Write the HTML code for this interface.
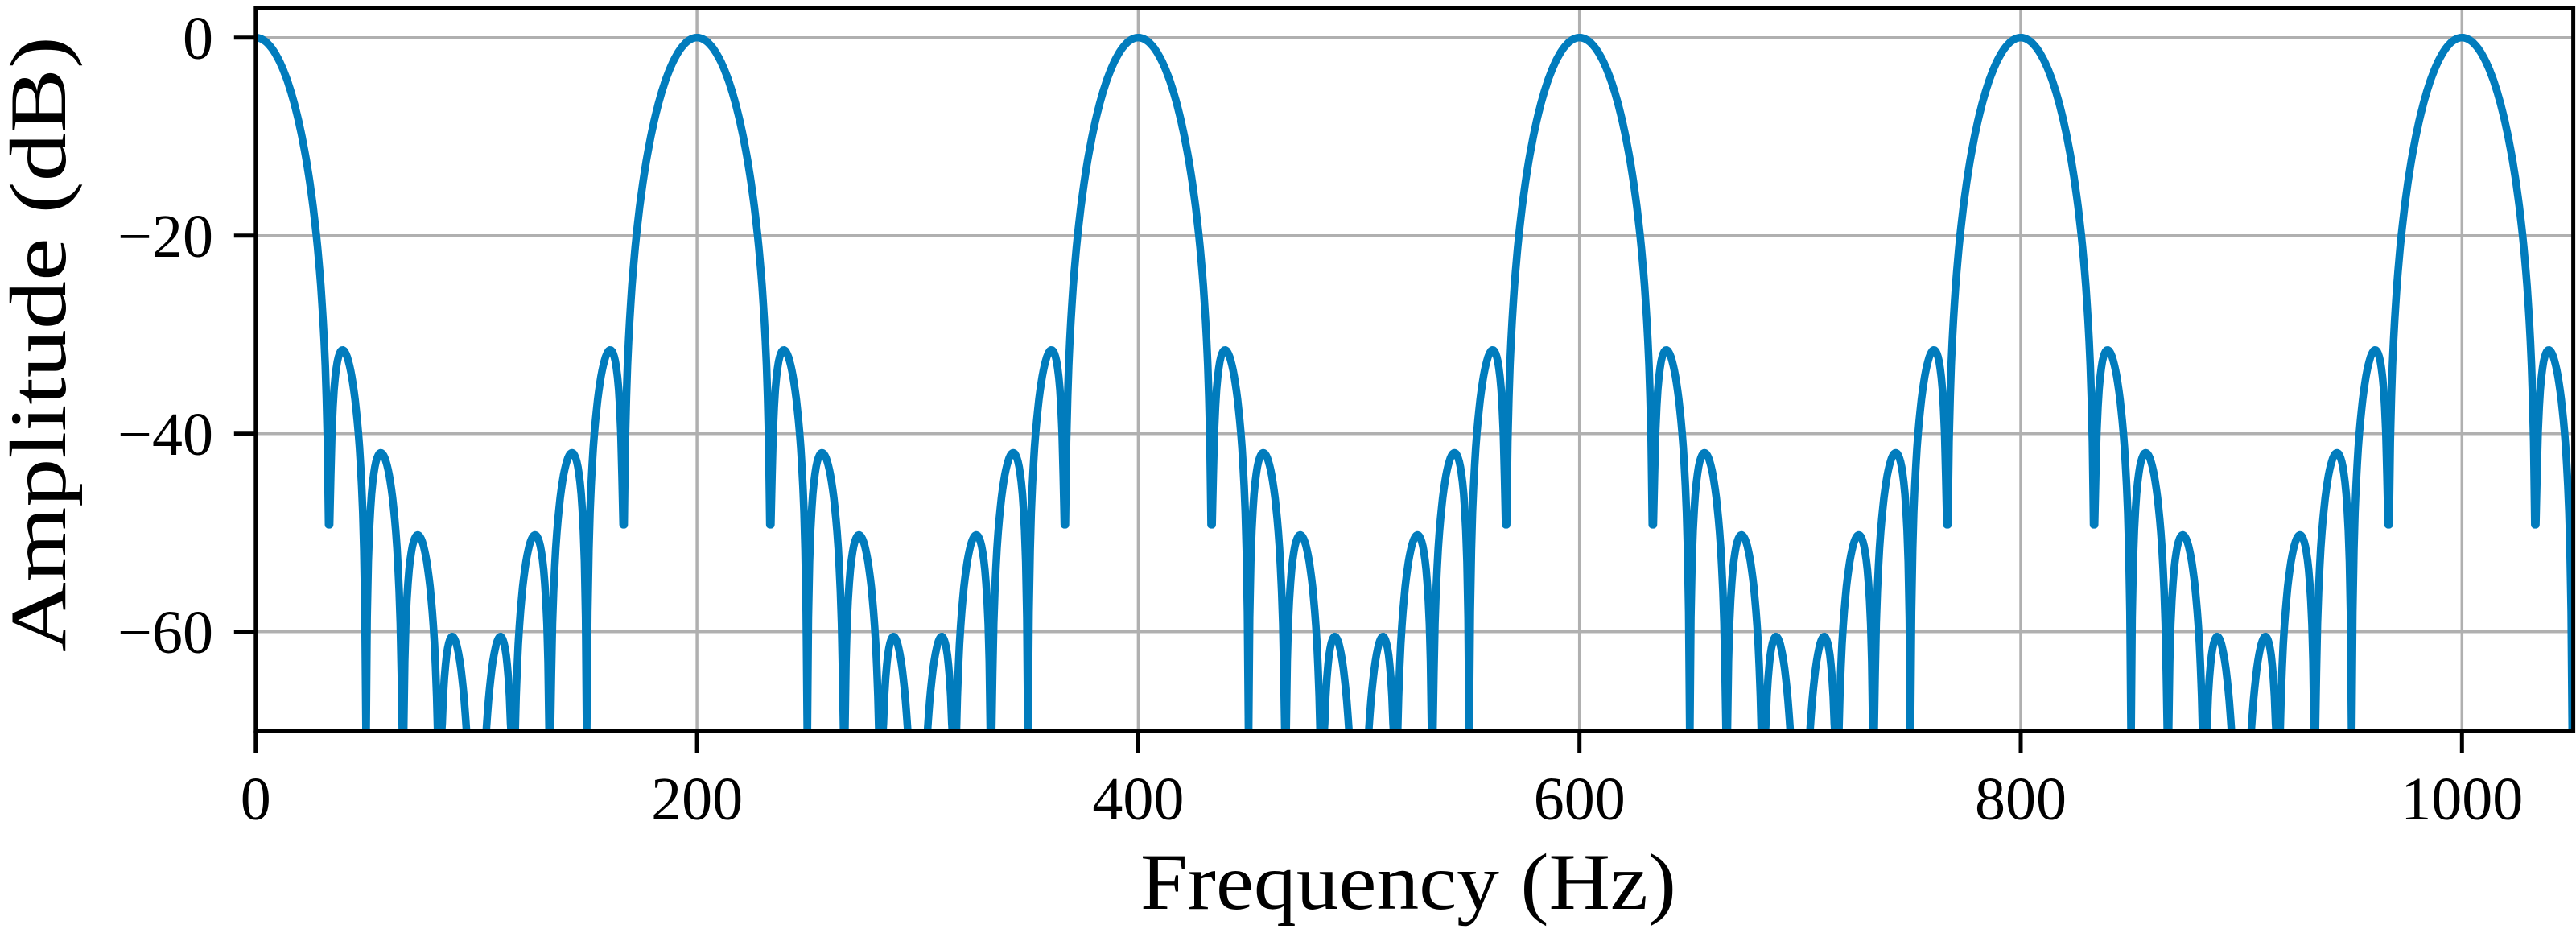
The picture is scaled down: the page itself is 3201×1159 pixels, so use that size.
<!DOCTYPE html>
<html><head><meta charset="utf-8"><style>
html,body{margin:0;padding:0;background:#fff;}
svg{display:block;}
text{font-family:"Liberation Serif",serif;fill:#000;}
</style></head><body>
<svg id="s" width="3201" height="1159" viewBox="0 0 3201 1159" xmlns="http://www.w3.org/2000/svg">
<rect width="3201" height="1159" fill="#fff"/>
<g id="grid" stroke="#b0b0b0" stroke-width="3.5"></g>
<path id="curve" fill="none" stroke="#017cbd" stroke-width="9.5" stroke-linejoin="round" stroke-linecap="butt"/>
<g id="ticks" stroke="#000" stroke-width="5"></g>
<rect x="317.8" y="10" width="2879.8" height="897.7" fill="none" stroke="#000" stroke-width="5"/>
<g font-size="76" text-anchor="end">
<text x="265" y="73">0</text>
<text x="265" y="319">−20</text>
<text x="265" y="565">−40</text>
<text x="265" y="811">−60</text>
</g>
<g font-size="76" text-anchor="middle">
<text x="317.8" y="1018">0</text>
<text x="866.1" y="1018">200</text>
<text x="1414.4" y="1018">400</text>
<text x="1962.7" y="1018">600</text>
<text x="2511.0" y="1018">800</text>
<text x="3059.3" y="1018">1000</text>
</g>
<text x="1417" y="1129" font-size="100" textLength="666" lengthAdjust="spacingAndGlyphs">Frequency (Hz)</text>
<text transform="translate(81,810) rotate(-90)" font-size="100" textLength="765" lengthAdjust="spacingAndGlyphs">Amplitude (dB)</text>
</svg>
<script>
(function(){
var X0=317.8, PX=2.7415, Y0=46.7, PY=12.3, YB=907.7, XR=3197.6;
function X(f){return X0+f*PX;}
function Y(d){return Y0-d*PY;}
var g=document.getElementById('grid'), t=document.getElementById('ticks');
var ns='http://www.w3.org/2000/svg';
function ln(p,x1,y1,x2,y2){var l=document.createElementNS(ns,'line');l.setAttribute('x1',x1);l.setAttribute('y1',y1);l.setAttribute('x2',x2);l.setAttribute('y2',y2);p.appendChild(l);}
for(var f=0;f<=1000;f+=200){ln(g,X(f),10,X(f),YB);ln(t,X(f),YB,X(f),YB+28);}
for(var d=0;d>=-60;d-=20){ln(g,X0,Y(d),XR,Y(d));ln(t,X0-27,Y(d),X0,Y(d));}
var N=12,w=[],s=0;for(var n=0;n<N;n++){w[n]=0.5-0.5*Math.cos(2*Math.PI*n/N);s+=w[n];}
var pts=[];
for(var f=0;f<=1050.001;f+=0.5){
 var th=2*Math.PI*f/200,re=0,im=0;
 for(var n=0;n<N;n++){re+=w[n]*Math.cos(th*n);im-=w[n]*Math.sin(th*n);}
 var db=20*Math.log10(Math.sqrt(re*re+im*im)/s+1e-12);
 var m=f%200; var dd=Math.min(m,200-m);
 if(dd>28&&dd<38) db=Math.max(db,-49.2);
 if(db<-71)db=-71;
 pts.push(X(f).toFixed(1)+','+Y(db).toFixed(1));
}
var c=document.getElementById('curve');
c.setAttribute('d','M'+pts.join('L'));
var cp=document.createElementNS(ns,'clipPath');cp.setAttribute('id','cl');
var r=document.createElementNS(ns,'rect');r.setAttribute('x',X0);r.setAttribute('y',10);r.setAttribute('width',XR-X0);r.setAttribute('height',YB-10);
cp.appendChild(r);document.getElementById('s').appendChild(cp);c.setAttribute('clip-path','url(#cl)');
})();
</script>
</body></html>
